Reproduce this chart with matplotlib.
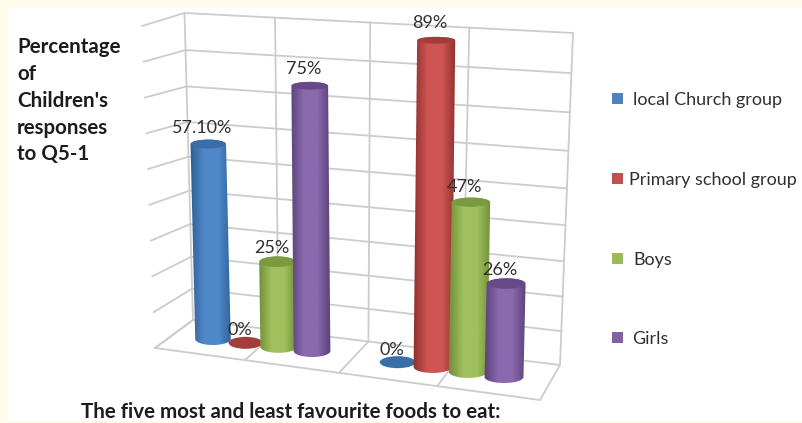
import numpy as np
import matplotlib
matplotlib.use("Agg")
import matplotlib.pyplot as plt
from matplotlib.path import Path
from matplotlib.patches import PathPatch, Rectangle, Ellipse
from matplotlib.colors import LinearSegmentedColormap

# ---------- data ----------
series_names = ["local Church group", "Primary school group", "Boys", "Girls"]
group1_values = [57.1, 0, 25, 75]
group2_values = [0, 89, 47, 26]
group1_labels = ["57.10%", "0%", "25%", "75%"]
group2_labels = ["0%", "89%", "47%", "26%"]
axis_max = 90
axis_step = 10
ylabel_lines = ["Percentage", "of", "Children's", "responses", "to Q5-1"]
footer_text = "The five most and least favourite foods to eat:"

# ---------- styles ----------
edge_cols = ["#2f5f96", "#8e2f2d", "#6f8c38", "#5a4279"]
mid_cols = ["#5089c9", "#cf5553", "#9fc05c", "#8a69ae"]
cap_cols = ["#3a6ea8", "#a33d3b", "#7b9a40", "#664a87"]
legend_cols = ["#4f81bd", "#c0504d", "#9bbb59", "#8064a2"]
grid_col = "#cccccc"
cream = "#fffbeb"
plt.rcParams["font.family"] = ["Lato", "DejaVu Sans"]

fig = plt.figure(figsize=(8.03, 4.23), dpi=100)
ax = fig.add_axes([0, 0, 1, 1])
W, H = 803, 423


# ---------- chart projection (data -> picture) ----------
def frac(v):
    f = v / axis_max
    return f / (1 + 0.10 * (1 - f))


def back_wall(u, v):
    """u in 0..1 across the back wall, v in axis units"""
    f = frac(v)
    xl = 193 + (184.5 - 193) * f
    yl = 320 + (13 - 320) * f
    xr = 560 + (573 - 560) * f
    yr = 365 + (33 - 365) * f
    return xl + (xr - xl) * u, yl + (yr - yl) * u


def left_front(v):
    f = v / axis_max
    return 155 + (142 - 155) * f, 348 + (26 - 348) * f


grid_kw = dict(color=grid_col, lw=1.3, zorder=1, solid_capstyle="round")
levels = np.arange(0, axis_max + axis_step, axis_step)
for v in levels:
    ax.plot(*zip(back_wall(0, v), back_wall(1, v)), **grid_kw)
    ax.plot(*zip(left_front(v), back_wall(0, v)), **grid_kw)
# verticals on the back wall and lines across the floor
for u in [0, 0.233, 0.478, 0.733, 1]:
    ax.plot(*zip(back_wall(u, 0), back_wall(u, axis_max)), **grid_kw)
    fx = 155 + (540 - 155) * u
    fy = 348 + (400 - 348) * u
    ax.plot([back_wall(u, 0)[0], fx], [back_wall(u, 0)[1], fy], **grid_kw)
ax.plot([155, 540], [348, 400], **grid_kw)


# ---------- cylinders ----------
def cylinder(slot, value, idx, label):
    bx = 213 + 32.33 * slot + 0.2246 * slot ** 2
    by = 339 + 3.743 * slot + 0.0856 * slot ** 2
    w = 35.5 + 0.4 * slot
    s = 3.4 + 0.00085 * (bx - 213)
    h = value * s * (1 + 0.03 * (value - 50) / 50)
    tx = bx + h * (bx - 365) * 1.6e-4
    ty = by - h
    eb = 12
    et = eb - 0.016 * h
    z = 3 + slot
    if value == 0:
        ax.add_patch(Ellipse((bx, by), w - 2, eb, color=cap_cols[idx], zorder=z, lw=0))
    else:
        t = np.linspace(0, np.pi, 40)
        low = np.c_[bx + w / 2 * np.cos(t), by + eb / 2 * np.sin(t)]
        up = np.c_[tx - w / 2 * np.cos(t), ty - et / 2 * np.sin(t)]
        poly = np.r_[low, up, low[:1]]
        patch = PathPatch(Path(poly), fc="none", ec="none", zorder=z)
        ax.add_patch(patch)
        cmap = LinearSegmentedColormap.from_list(
            "c", [edge_cols[idx], mid_cols[idx], mid_cols[idx], edge_cols[idx]]
        )
        grad = np.linspace(0, 1, 64).reshape(1, -1)
        im = ax.imshow(
            grad,
            cmap=cmap,
            extent=(min(bx, tx) - w / 2 - 1, max(bx, tx) + w / 2 + 1, by + eb, ty - et),
            aspect="auto",
            zorder=z,
            interpolation="bilinear",
        )
        im.set_clip_path(patch)
        ax.add_patch(Ellipse((tx, ty), w - 1, et, color=cap_cols[idx], zorder=z + 0.1, lw=0))
    ax.text(tx - 6, ty - 12.5 - 0.016 * h, label, ha="center", va="center",
            fontsize=13, color="#303030", zorder=20)


slots1 = [0, 1, 2, 3]
slots2 = [5.5, 6.5, 7.5, 8.5]
for i in range(4):
    cylinder(slots1[i], group1_values[i], i, group1_labels[i])
for i in range(4):
    cylinder(slots2[i], group2_values[i], i, group2_labels[i])

# ---------- legend ----------
legend_y = [99, 179, 259, 338]
legend_x = [633, 629, 633, 632]
for i, name in enumerate(series_names):
    ax.add_patch(Rectangle((612, legend_y[i] - 5.5), 11, 11, fc=legend_cols[i], ec="none", zorder=5))
    ax.text(legend_x[i], legend_y[i] + 1, name, ha="left", va="center", fontsize=13, color="#303030")

# ---------- text ----------
ylabel_y = [47, 74, 101, 128, 154]
for line, y in zip(ylabel_lines, ylabel_y):
    ax.text(17, y, line, ha="left", va="center", fontsize=14.8, fontweight="bold", color="#1c1c1c")
ax.text(291, 418.5, footer_text, ha="center", va="baseline", fontsize=14.8,
        fontweight="bold", color="#1c1c1c", zorder=30)

# ---------- page strips ----------
for r in [(0, 0, W, 8), (0, 0, 8, H), (0, 421, W, 2)]:
    ax.add_patch(Rectangle((r[0], r[1]), r[2], r[3], fc=cream, ec="none", zorder=40))

ax.set_xlim(0, W)
ax.set_ylim(H, 0)
ax.axis("off")
fig.savefig("out.png", dpi=100, facecolor="white")
